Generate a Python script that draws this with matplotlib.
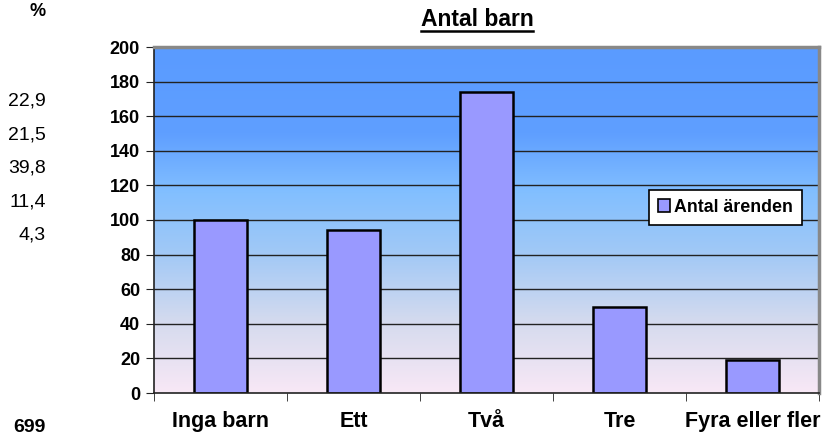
import numpy as np
import matplotlib
matplotlib.use('Agg')
import matplotlib.pyplot as plt
from matplotlib.colors import LinearSegmentedColormap
from matplotlib.patches import Patch

plt.rcParams['font.family'] = ['Liberation Sans', 'DejaVu Sans']

categories = ['Inga barn', 'Ett', 'Två', 'Tre', 'Fyra eller fler']
values = [100, 94, 174, 50, 19]
percent_labels = ['22,9', '21,5', '39,8', '11,4', '4,3']
total_label = '699'

fig = plt.figure(figsize=(8.38, 4.37), dpi=100)
ax = fig.add_axes([154 / 838, 1 - 393 / 437, (819 - 154) / 838, (393 - 47) / 437])

# background gradient (top blue -> bottom pink)
cmap = LinearSegmentedColormap.from_list('bg', [
    (0.0, '#F8E8F6'), (0.2, '#D6DBEE'), (0.4, '#A2C9F6'),
    (0.58, '#82BFFF'), (0.75, '#5F9FFF'), (1.0, '#5A9BFF')])
grad = np.linspace(0, 1, 256).reshape(-1, 1)
ax.imshow(grad, aspect='auto', cmap=cmap, origin='lower',
          extent=[-0.5, 4.5, 0, 200], zorder=0)

x = np.arange(len(categories))
for v in range(20, 201, 20):
    ax.axhline(v, color='#222222', lw=1, zorder=1)
ax.bar(x, values, width=0.4, color='#9999FF', edgecolor='black', lw=1.8, zorder=2)

ax.set_xlim(-0.5, 4.5)
ax.set_ylim(0, 200)
ax.set_yticks(range(0, 201, 20))
ax.set_xticks(x)
ax.set_xticklabels(categories, fontsize=15.5, fontweight='bold')
ax.tick_params(axis='x', length=0, pad=13)
ax.set_xticks(np.arange(-0.5, 5, 1), minor=True)
ax.tick_params(axis='x', which='minor', length=6, direction='out', color='#222222')
ax.tick_params(axis='y', labelsize=13, length=6, pad=4, color='#222222')
for lab in ax.get_yticklabels():
    lab.set_fontweight('bold')

ax.spines['left'].set_color('#222222')
ax.spines['left'].set_linewidth(1.2)
ax.spines['bottom'].set_color('#222222')
ax.spines['bottom'].set_linewidth(1.2)
ax.spines['top'].set_color('#888888')
ax.spines['top'].set_linewidth(2.5)
ax.spines['right'].set_color('#888888')
ax.spines['right'].set_linewidth(2.5)

title = fig.text(477 / 838, 1 - 20 / 437, 'Antal barn', fontsize=16.5,
                 fontweight='bold', ha='center', va='center')

leg = ax.legend(handles=[Patch(facecolor='#9999FF', edgecolor='black', lw=1.2)],
                labels=['Antal ärenden'], loc='upper left',
                bbox_to_anchor=((649 - 154) / 665, (393 - 190) / 346),
                frameon=True, fancybox=False, framealpha=1, handlelength=0.7,
                handleheight=0.7, handletextpad=0.2, borderpad=0.5, borderaxespad=0,
                prop={'weight': 'bold', 'size': 12.8})
leg.get_frame().set_edgecolor('black')
leg.get_frame().set_linewidth(1.2)

# side column of percentages
fig.text(38 / 838, 1 - 12 / 437, '%', fontsize=13, fontweight='bold', ha='center', va='center')
for i, p in enumerate(percent_labels):
    fig.text(46 / 838, 1 - (101 + 33.6 * i) / 437, p, fontsize=14, ha='right', va='center')
fig.text(29 / 838, 1 - 428 / 437, total_label, fontsize=14, fontweight='bold', ha='center', va='center')

# underline the title
fig.canvas.draw()
bb = title.get_window_extent().transformed(fig.transFigure.inverted())
fig.add_artist(plt.Line2D([bb.x0, bb.x1], [1 - 31 / 437] * 2, color='black', lw=1.8))

fig.savefig('out.png', dpi=100)
